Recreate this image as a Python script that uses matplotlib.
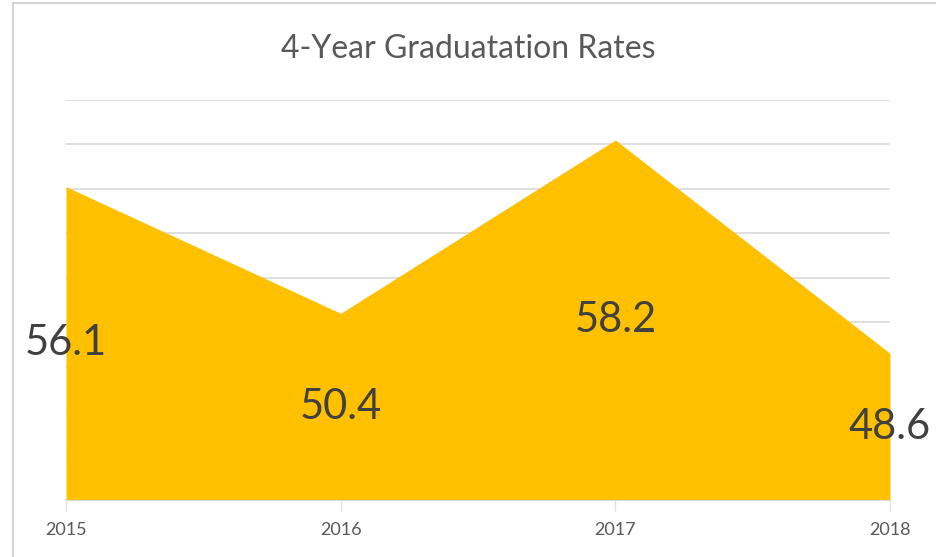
import matplotlib
matplotlib.use("Agg")
import matplotlib.pyplot as plt
from matplotlib.lines import Line2D

# Graduation rate data
years = [2015, 2016, 2017, 2018]
rates = [56.1, 50.4, 58.2, 48.6]
year_labels = ["2015", "2016", "2017", "2018"]

Y_MIN = 42
Y_MAX = 60
GOLD = '#ffc000'

plt.rcParams['font.family'] = ['Lato', 'DejaVu Sans']

fig = plt.figure(figsize=(9.36, 5.57), dpi=100)
ax = fig.add_axes([66 / 936, 1 - 500 / 557, (890 - 66) / 936, 400 / 557])

ax.fill_between(years, rates, Y_MIN, color=GOLD, linewidth=0, zorder=2)

ax.set_xlim(years[0], years[-1])
ax.set_ylim(Y_MIN, Y_MAX)

# horizontal gridlines every 2 points
ax.set_yticks(range(Y_MIN, Y_MAX + 1, 2))
ax.yaxis.grid(True, color='#d9d9d9', linewidth=1.2, zorder=1)
ax.tick_params(axis='y', left=False, labelleft=False)
ax.set_axisbelow(True)

ax.set_xticks(years)
ax.set_xticklabels(year_labels, fontsize=13, color='#595959')
ax.tick_params(axis='x', length=8, width=1, color='#e0e0e0', pad=8)

for side in ['top', 'right', 'left']:
    ax.spines[side].set_visible(False)
ax.spines['bottom'].set_color('#d9d9d9')

# value labels sit halfway up each filled column
for x, v in zip(years, rates):
    ax.text(x, (Y_MIN + v) / 2, f"{v}", ha='center', va='center',
            fontsize=30, color='#404040', zorder=3, clip_on=False)

fig.text(0.5, 1 - 49 / 557, "4-Year Graduatation Rates", ha='center', va='center',
         fontsize=23, color='#595959')

# panel frame along the top and left edges
fig.add_artist(Line2D([13 / 936, 13 / 936], [0, 1 - 3 / 557], transform=fig.transFigure,
                      color='#d4d4d4', linewidth=1.5))
fig.add_artist(Line2D([13 / 936, 1], [1 - 3 / 557, 1 - 3 / 557], transform=fig.transFigure,
                      color='#d4d4d4', linewidth=1.5))

fig.savefig("out.png", dpi=100)
